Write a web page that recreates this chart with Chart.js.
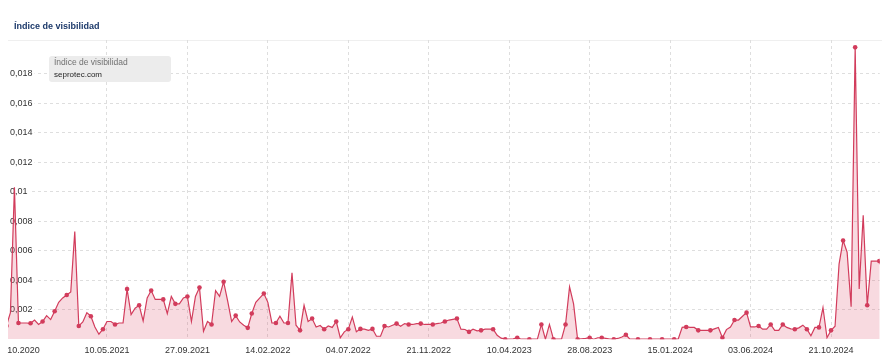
<!DOCTYPE html>
<html>
<head>
<meta charset="utf-8">
<script src="https://cdn.jsdelivr.net/npm/chart.js@4.4.1/dist/chart.umd.min.js"></script>
<style>
  html, body { margin: 0; padding: 0; background: #fff; }
  #wrap { position: relative; width: 882px; height: 361px; }
</style>
</head>
<body>
<div id="wrap"><canvas id="c"></canvas></div>
<script>
// ---- data ----
const chartTitle = 'Índice de visibilidad';
const seriesLabel = 'Índice de visibilidad';
const domainLabel = 'seprotec.com';

// weekly values (index = week number of the series)
const visibility = [
  0.0009, 0.0018, 0.0103, 0.0011, 0.0011, 0.0011, 0.00108, 0.0013, 0.001, 0.0012,
  0.0016, 0.00133, 0.0019, 0.0025, 0.0028, 0.003, 0.0032, 0.0073, 0.0009, 0.00117,
  0.0018, 0.00156, 0.00083, 0.00034, 0.00068, 0.0012, 0.0012, 0.001, 0.0011, 0.0011,
  0.0034, 0.00167, 0.0021, 0.0023, 0.00124, 0.0028, 0.0033, 0.0027, 0.0027, 0.0027,
  0.00174, 0.0029, 0.0024, 0.0024, 0.0028, 0.0029, 0.0012, 0.0029, 0.0035, 0.00054,
  0.0012, 0.001, 0.0033, 0.0029, 0.0039, 0.0026, 0.0012, 0.0016, 0.00117, 0.00095,
  0.00077, 0.00174, 0.0025, 0.0028, 0.0031, 0.0025, 0.0011, 0.0011, 0.00156, 0.0011,
  0.0011, 0.0045, 0.00095, 0.0006, 0.0023, 0.0012, 0.0014, 0.00083, 0.00093, 0.00068,
  0.0009, 0.0008, 0.0012, 0.0001, 0.0005, 0.00068, 0.0015, 0.0005, 0.0007, 0.00068,
  0.0006, 0.0007, 0.0002, 0.0002, 0.0009, 0.00083, 0.00095, 0.00106, 0.00088, 0.00106,
  0.001, 0.001, 0.00106, 0.00106, 0.001, 0.001, 0.001, 0.00106, 0.0011, 0.0012,
  0.0013, 0.00135, 0.0014, 0.00068, 0.00066, 0.0005, 0.00068, 0.00057, 0.0006, 0.00068,
  0.00068, 0.00068, 0.00027, 0.00007, 0, 0, 0.00002, 0.0001, 0, 0,
  0, 0, 0, 0.001, 0, 0.001, 0, 0, 0, 0.001,
  0.00355, 0.0024, 0, 0.00003, 0.00005, 0.0001, 0, 0.0001, 0.0001, 0.00005,
  0, 0, 0.00005, 0.00015, 0.0003, 0, 0, 0, 0, 0,
  0, 0, 0, 0, 0, 0, 0, 0, 0.0008, 0.00083,
  0.0008, 0.0008, 0.0006, 0.0006, 0.0006, 0.0006, 0.0007, 0.0008, 0.0001, 0.00065,
  0.00083, 0.0013, 0.0013, 0.00156, 0.0018, 0.00083, 0.00083, 0.0009, 0.00068, 0.00068,
  0.001, 0.0006, 0.0006, 0.001, 0.0008, 0.0007, 0.00068, 0.00077, 0.00095, 0.00068,
  0.00023, 0.0008, 0.0008, 0.00215, 0.0001, 0.0006, 0.00088, 0.0051, 0.0067, 0.0059,
  0.0022, 0.0198, 0.0034, 0.0084, 0.0023, 0.0053, 0.0053, 0.0053, 0.0045
];

// x-axis tick labels and the week they sit on
const xTickLabels = ['10.2020', '10.05.2021', '27.09.2021', '14.02.2022', '04.07.2022',
  '21.11.2022', '10.04.2023', '28.08.2023', '15.01.2024', '03.06.2024', '21.10.2024'];
const xTickWeeks = [4.24, 25, 45, 65, 85, 105, 125, 145, 165, 185, 205];

// y-axis tick values
const yTickValues = [0.002, 0.004, 0.006, 0.008, 0.01, 0.012, 0.014, 0.016, 0.018];

// ---- chart ----
const points = visibility.map((v, i) => ({ x: i, y: v }));

const LINE = '#d23c5c';
const FILL = 'rgba(220, 70, 100, 0.2)';
const GRID = '#dedede';
const FONT = '"Liberation Sans", Arial, Helvetica, sans-serif';

const decor = {
  id: 'decor',
  beforeDraw(chart) {
    const ctx = chart.ctx;
    ctx.save();
    ctx.fillStyle = '#fff';
    ctx.fillRect(0, 0, chart.width, chart.height);
    ctx.fillStyle = '#1d3a6b';
    ctx.font = 'bold 9px ' + FONT;
    ctx.textBaseline = 'middle';
    ctx.textAlign = 'left';
    ctx.fillText(chartTitle, 14, 27);
    ctx.strokeStyle = '#efefef';
    ctx.lineWidth = 1;
    ctx.beginPath();
    ctx.moveTo(8, 40.5);
    ctx.lineTo(chart.width, 40.5);
    ctx.stroke();
    ctx.restore();
  },
  afterDraw(chart) {
    const ctx = chart.ctx;
    ctx.save();
    ctx.fillStyle = '#ececec';
    ctx.beginPath();
    ctx.roundRect(49, 56, 122, 26, 3);
    ctx.fill();
    ctx.textBaseline = 'middle';
    ctx.textAlign = 'left';
    ctx.fillStyle = '#707070';
    ctx.font = '8.5px ' + FONT;
    ctx.fillText(seriesLabel, 54, 63);
    ctx.fillStyle = '#1e1e1e';
    ctx.font = '8px ' + FONT;
    ctx.fillText(domainLabel, 54, 74.5);
    ctx.restore();
  }
};

new Chart(document.getElementById('c'), {
  type: 'line',
  data: {
    datasets: [{
      data: points,
      borderColor: LINE,
      backgroundColor: FILL,
      borderWidth: 1.2,
      fill: 'origin',
      tension: 0,
      pointRadius: ctx => {
        const i = ctx.dataIndex;
        const dot = i <= 60 ? i % 3 === 0 : i % 3 === 1;
        return dot ? 2.3 : 0;
      },
      pointBackgroundColor: LINE,
      pointBorderWidth: 0,
      pointHoverRadius: 0
    }]
  },
  options: {
    responsive: true,
    maintainAspectRatio: false,
    animation: false,
    devicePixelRatio: 1,
    layout: { padding: { left: 4, right: -2.3, top: 40, bottom: -1 } },
    plugins: { legend: { display: false }, tooltip: { enabled: false }, title: { display: false } },
    scales: {
      x: {
        type: 'linear',
        min: 0.4,
        max: 217.1,
        afterBuildTicks: s => { s.ticks = xTickWeeks.map(v => ({ value: v })); },
        afterFit: s => { s.paddingLeft = 0; s.paddingRight = 0; },
        ticks: {
          autoSkip: false,
          maxRotation: 0,
          padding: 6,
          color: '#333',
          font: { family: FONT, size: 9 },
          callback: (v, i) => xTickLabels[i]
        },
        grid: {
          drawTicks: false,
          color: ctx => (ctx.index === 0 ? 'rgba(0,0,0,0)' : GRID),
          lineWidth: 1
        },
        border: { display: false, dash: [3, 3] }
      },
      y: {
        min: 0,
        max: 0.0203,
        afterBuildTicks: s => { s.ticks = yTickValues.map(v => ({ value: v })); },
        ticks: {
          mirror: true,
          padding: 2,
          color: '#333',
          font: { family: FONT, size: 9 },
          showLabelBackdrop: true,
          backdropColor: '#fff',
          backdropPadding: { left: 2, right: 2, top: 0, bottom: 0 },
          callback: v => String(+v.toFixed(3)).replace('.', ',')
        },
        grid: { drawTicks: false, color: GRID, lineWidth: 1 },
        border: { display: false, dash: [3, 3] }
      }
    }
  },
  plugins: [decor]
});
</script>
</body>
</html>
